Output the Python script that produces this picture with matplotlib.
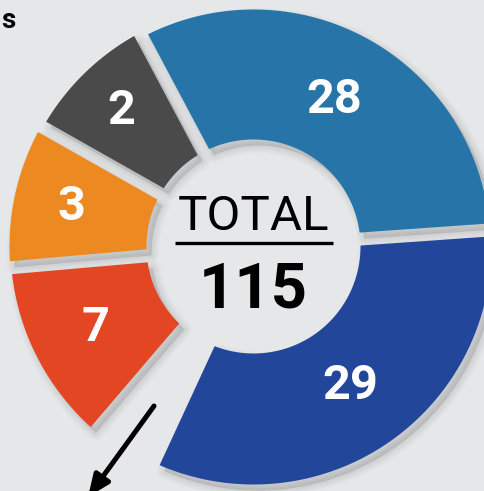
import numpy as np
import matplotlib.pyplot as plt
from matplotlib.patches import Polygon

# dados do gráfico
values = [28, 29, 2, 3, 7]
total_label = "115"
colors = ['#2775a8', '#22469a', '#4a4a4a', '#ec8920', '#e34623']

# layout: limites angulares (graus, anti-horário) e raios de cada fatia
bounds = [(4, 118), (245.2, 364), (118, 150.5), (150.5, 185), (185, 229.5)]
outer_r = [237, 238, 242, 244, 243]
label_r = [167, 170, 189, 186, 178]
inner_r = 107
gap = 13
W, H = 484, 491
cx, cy = 253.5, H - 246.5
bg = '#e6e7e9'


def ring_points(a1, a2, r_in, r_out, dx=0, dy=0):
    h = gap / 2
    o1 = a1 + np.degrees(np.arcsin(h / r_out))
    o2 = a2 - np.degrees(np.arcsin(h / r_out))
    i1 = a1 + np.degrees(np.arcsin(h / r_in))
    i2 = a2 - np.degrees(np.arcsin(h / r_in))
    to = np.radians(np.linspace(o1, o2, 120))
    ti = np.radians(np.linspace(i2, i1, 80))
    xs = np.concatenate([cx + r_out * np.cos(to), cx + r_in * np.cos(ti)]) + dx
    ys = np.concatenate([cy + r_out * np.sin(to), cy + r_in * np.sin(ti)]) + dy
    return np.column_stack([xs, ys])


fig = plt.figure(figsize=(W / 100, H / 100), dpi=100, facecolor=bg)
ax = fig.add_axes([0, 0, 1, 1])
ax.set_xlim(0, W)
ax.set_ylim(0, H)
ax.set_facecolor(bg)
ax.axis('off')

# sombra suave (várias camadas transparentes)
for (a1, a2), ro in zip(bounds, outer_r):
    pts = ring_points(a1, a2, inner_r, ro, dx=5, dy=-6)
    for lw in [1, 3, 5, 7, 9, 11]:
        ax.add_patch(Polygon(pts, closed=True, facecolor='black', edgecolor='black',
                             alpha=0.016, lw=lw, joinstyle='round', zorder=1))

for (a1, a2), ro, col, v, lr in zip(bounds, outer_r, colors, values, label_r):
    ax.add_patch(Polygon(ring_points(a1, a2, inner_r, ro), closed=True,
                         facecolor=col, edgecolor='none', zorder=2))
    mid = np.radians((a1 + a2) / 2)
    ax.text(cx + lr * np.cos(mid), cy + lr * np.sin(mid), str(v), color='white',
            fontsize=35, fontweight='bold', family='Roboto',
            ha='center', va='center', zorder=3)

# centro
ax.text(cx, H - 230, 'TOTAL', fontsize=35.5, fontweight='normal', family='Roboto',
        ha='center', va='baseline', color='black', zorder=3)
ax.plot([175, 333], [H - 243, H - 243], color='black', lw=2.4,
        solid_capstyle='butt', zorder=3)
ax.text(cx, H - 307, total_label, fontsize=45.5, fontweight='bold', family='Roboto',
        ha='center', va='baseline', color='black', zorder=3)

# resto do título cortado
ax.text(1, H - 28, 's', fontsize=20, fontweight='bold', family='Roboto',
        ha='left', va='baseline', color='black')

# seta
ax.annotate('', xy=(88, H - 497), xytext=(154, H - 406), annotation_clip=False,
            arrowprops=dict(arrowstyle='-|>,head_length=1.3,head_width=0.55',
                            color='black', lw=3.6, shrinkA=0, shrinkB=0),
            zorder=4)

fig.savefig('out.png', dpi=100, facecolor=bg)
